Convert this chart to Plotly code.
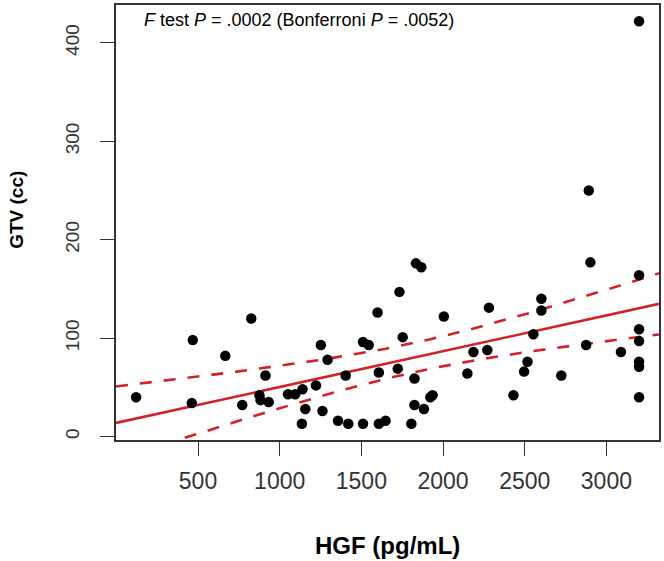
import numpy as np
import plotly.graph_objects as go

# ---- data ----
hgf = [121, 468, 462, 667, 826, 771, 913, 876, 883, 933,
       1051, 1095, 1140, 1157, 1136, 1222, 1252, 1293, 1262, 1357,
       1404, 1420, 1510, 1510, 1545, 1599, 1607, 1607, 1648, 1733,
       1753, 1723, 1825, 1825, 1806, 1883, 1922, 1936, 2005, 1834,
       1867, 2149, 2186, 2271, 2281, 2431, 2496, 2517, 2553, 2602,
       2602, 2724, 2876, 3089, 3200, 2892, 2902, 3200, 3200, 3200,
       3200, 3200, 3200]
gtv = [40, 98, 34, 82, 120, 32, 62, 42, 37, 35,
       43, 43, 48, 28, 13, 52, 93, 78, 26, 16,
       62, 13, 13, 96, 93, 126, 65, 13, 16, 147,
       101, 69, 59, 32, 13, 28, 40, 42, 122, 176,
       172, 64, 86, 88, 131, 42, 66, 76, 104, 140,
       128, 62, 93, 86, 422, 250, 177, 164, 109, 97,
       76, 71, 40]

x_ticks = [500, 1000, 1500, 2000, 2500, 3000]
y_ticks = [0, 100, 200, 300, 400]
x_range = [-2, 3322]
y_range = [-3.5, 438.5]
t_crit = 2.0  # t(0.975, df = n-2)

annotation_text = "<i>F</i> test <i>P</i> = .0002 (Bonferroni <i>P</i> = .0052)"
x_title = "HGF (pg/mL)"
y_title = "GTV (cc)"

# ---- linear fit with 95% confidence band ----
X = np.array(hgf, dtype=float)
Y = np.array(gtv, dtype=float)
n = len(X)
slope, intercept = np.polyfit(X, Y, 1)
resid = Y - (intercept + slope * X)
s = np.sqrt(np.sum(resid ** 2) / (n - 2))
xbar = X.mean()
sxx = np.sum((X - xbar) ** 2)
xs = np.linspace(x_range[0], x_range[1], 300)
fit = intercept + slope * xs
se = s * np.sqrt(1.0 / n + (xs - xbar) ** 2 / sxx)
upper = fit + t_crit * se
lower = fit - t_crit * se

RED = "#D22228"
FONT = "Liberation Sans, Arial, sans-serif"

fig = go.Figure()
fig.add_trace(go.Scatter(x=xs, y=fit, mode="lines",
                         line=dict(color=RED, width=2.6), hoverinfo="skip"))
fig.add_trace(go.Scatter(x=xs, y=upper, mode="lines",
                         line=dict(color=RED, width=2.6, dash="12px,12px"), hoverinfo="skip"))
fig.add_trace(go.Scatter(x=xs, y=lower, mode="lines",
                         line=dict(color=RED, width=2.6, dash="12px,12px"), hoverinfo="skip"))
fig.add_trace(go.Scatter(x=hgf, y=gtv, mode="markers",
                         marker=dict(color="black", size=10.5, line=dict(width=0))))

fig.update_layout(
    width=664, height=561,
    margin=dict(l=116, r=3, t=3, b=121),
    paper_bgcolor="white", plot_bgcolor="white",
    showlegend=False,
    font=dict(family=FONT, color="#222222"),
    xaxis=dict(range=x_range, tickvals=x_ticks, ticks="outside", ticklen=14,
               tickwidth=1.3, tickcolor="#333333",
               showline=True, linecolor="#333333", linewidth=1.5, mirror=True,
               showgrid=False, zeroline=False,
               tickfont=dict(size=23, family=FONT, color="#333333"),
               ticklabelstandoff=6),
    yaxis=dict(range=y_range, tickvals=y_ticks, ticks="outside", ticklen=14,
               tickwidth=1.3, tickcolor="#333333",
               showline=True, linecolor="#333333", linewidth=1.5, mirror=True,
               showgrid=False, zeroline=False, tickangle=-90,
               tickfont=dict(size=19, family=FONT, color="#333333"),
               ticklabelstandoff=14),
    annotations=[
        dict(text=annotation_text, xref="paper", yref="paper", x=0.0477, y=0.9657,
             xanchor="left", yanchor="middle", showarrow=False,
             font=dict(size=18, family=FONT, color="black")),
        dict(text="<b>" + x_title + "</b>", xref="paper", yref="paper", x=0.5, y=-0.2426,
             xanchor="center", yanchor="middle", showarrow=False,
             font=dict(size=24, family=FONT, color="black")),
        dict(text="<b>" + y_title + "</b>", xref="paper", yref="paper", x=-0.1835, y=0.53,
             xanchor="center", yanchor="middle", showarrow=False, textangle=-90,
             font=dict(size=19, family=FONT, color="black")),
    ],
)

fig.write_html("out.html", config={"displayModeBar": False},
               post_script="document.body.style.margin='0';document.body.style.overflow='hidden';")
